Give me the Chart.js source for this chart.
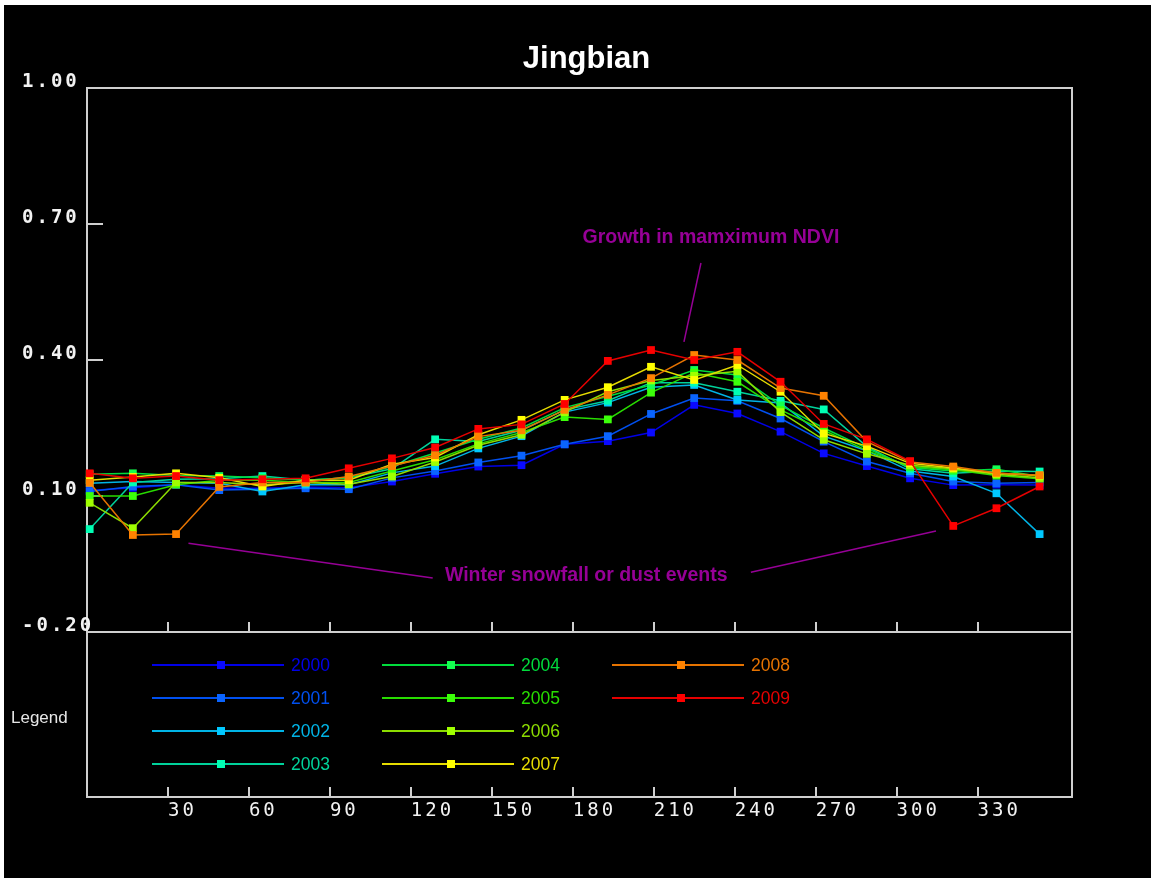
<!DOCTYPE html>
<html>
<head>
<meta charset="utf-8">
<script src="https://cdn.jsdelivr.net/npm/chart.js@4.4.1/dist/chart.umd.min.js"></script>
<style>
  html, body { margin: 0; padding: 0; background: #000; overflow: hidden; }
  #wrap { position: relative; width: 1151px; height: 878px; background: #000; }
  #c { position: absolute; left: 0; top: 0; }
  .edgeT { position: absolute; left: 0; top: 0; width: 1151px; height: 5px; background: #fff; }
  .edgeL { position: absolute; left: 0; top: 0; width: 4px; height: 878px; background: #fff; }
</style>
</head>
<body>
<div id="wrap">
  <canvas id="c" width="1151" height="878"></canvas>
  <div class="edgeT"></div>
  <div class="edgeL"></div>
</div>
<script>
// ---- data ----
const days = [1, 17, 33, 49, 65, 81, 97, 113, 129, 145, 161, 177, 193, 209, 225, 241, 257, 273, 289, 305, 321, 337, 353];
const years = ['2000', '2001', '2002', '2003', '2004', '2005', '2006', '2007', '2008', '2009'];

const ndvi2000 = [0.112, 0.118, 0.125, 0.117, 0.117, 0.120, 0.118, 0.132, 0.149, 0.165, 0.168, 0.214, 0.221, 0.240, 0.301, 0.282, 0.242, 0.194, 0.166, 0.139, 0.124, 0.125, 0.124];
const ndvi2001 = [0.110, 0.121, 0.125, 0.113, 0.115, 0.117, 0.115, 0.140, 0.155, 0.174, 0.189, 0.214, 0.232, 0.281, 0.316, 0.310, 0.271, 0.220, 0.176, 0.150, 0.132, 0.128, 0.130];
const ndvi2002 = [0.128, 0.132, 0.130, 0.128, 0.110, 0.125, 0.125, 0.151, 0.166, 0.205, 0.232, 0.285, 0.306, 0.340, 0.345, 0.312, 0.305, 0.232, 0.200, 0.155, 0.143, 0.106, 0.016];
const ndvi2003 = [0.027, 0.130, 0.137, 0.138, 0.144, 0.135, 0.140, 0.160, 0.225, 0.220, 0.245, 0.290, 0.310, 0.350, 0.350, 0.330, 0.310, 0.291, 0.209, 0.160, 0.150, 0.155, 0.154];
const ndvi2004 = [0.148, 0.150, 0.145, 0.144, 0.140, 0.135, 0.140, 0.165, 0.195, 0.225, 0.250, 0.295, 0.320, 0.345, 0.378, 0.367, 0.300, 0.250, 0.205, 0.163, 0.155, 0.159, 0.143];
const ndvi2005 = [0.100, 0.100, 0.125, 0.135, 0.135, 0.130, 0.130, 0.155, 0.180, 0.215, 0.240, 0.274, 0.269, 0.328, 0.372, 0.352, 0.290, 0.245, 0.200, 0.165, 0.158, 0.145, 0.138];
const ndvi2006 = [0.085, 0.029, 0.130, 0.130, 0.125, 0.130, 0.126, 0.143, 0.175, 0.212, 0.235, 0.285, 0.330, 0.355, 0.365, 0.375, 0.285, 0.224, 0.193, 0.168, 0.160, 0.148, 0.140];
const ndvi2007 = [0.135, 0.142, 0.150, 0.140, 0.121, 0.135, 0.135, 0.170, 0.185, 0.235, 0.268, 0.312, 0.340, 0.385, 0.356, 0.389, 0.330, 0.238, 0.210, 0.172, 0.162, 0.150, 0.145];
const ndvi2008 = [0.129, 0.014, 0.016, 0.120, 0.130, 0.130, 0.143, 0.166, 0.190, 0.231, 0.245, 0.290, 0.323, 0.360, 0.411, 0.400, 0.338, 0.321, 0.220, 0.175, 0.165, 0.151, 0.146];
const ndvi2009 = [0.150, 0.139, 0.144, 0.135, 0.137, 0.139, 0.161, 0.183, 0.207, 0.248, 0.258, 0.303, 0.398, 0.422, 0.400, 0.418, 0.352, 0.259, 0.225, 0.177, 0.034, 0.073, 0.121];

const series = [ndvi2000, ndvi2001, ndvi2002, ndvi2003, ndvi2004, ndvi2005, ndvi2006, ndvi2007, ndvi2008, ndvi2009];

const xTickValues = [30, 60, 90, 120, 150, 180, 210, 240, 270, 300, 330];
const yTickValues = [-0.2, 0.1, 0.4, 0.7, 1.0];

const titleText = 'Jingbian';
const legendTitle = 'Legend';
// annotations in data coordinates (day, NDVI)
const noteGrowth = { text: 'Growth in mamximum NDVI', at: [231.2, 0.669], line: [[227.5, 0.614], [221.2, 0.440]] };
const noteWinter = { text: 'Winter snowfall or dust events', at: [185, -0.0765],
  lines: [[[37.6, -0.004], [128.1, -0.081]], [[246, -0.068], [314.6, 0.0228]]] };

// ---- styles ----
const markerColors = ['#0a0aff', '#0a64ff', '#00c8ff', '#00ffb4', '#14ff50', '#3cff0a', '#a0ff00', '#ffff00', '#ff8200', '#ff0000'];
const lineColors   = ['#0000e6', '#0050f0', '#00b4e6', '#00d29b', '#00dc3c', '#28dc00', '#8cdc00', '#e6dc00', '#e67300', '#e60000'];
const AXIS = '#cfcfcf';
const PURPLE = '#960096';

const datasets = years.map((yr, i) => ({
  label: yr,
  data: days.map((d, j) => ({ x: d, y: series[i][j] })),
  borderColor: lineColors[i],
  backgroundColor: markerColors[i],
  pointBackgroundColor: markerColors[i],
  pointBorderColor: markerColors[i],
  pointBorderWidth: 0,
  pointRadius: 5.5,
  pointStyle: 'rect',
  borderWidth: 1.5,
  tension: 0,
  order: 9 - i,
  clip: false,
  xAxisID: 'x',
  yAxisID: 'y'
}));

// wrap label drawing to give the axis labels wide spacing
const labelStyle = {
  id: 'labelStyle',
  beforeDraw(chart) {
    [['y', '3px', 4], ['x2', '3px', 2]].forEach(([id, sp, dy]) => {
      const s = chart.scales[id];
      if (!s || s._styled) return;
      const orig = s.drawLabels.bind(s);
      s._computeLabelArea = () => undefined;
      s.drawLabels = (area) => {
        const c = s.ctx;
        c.save();
        c.letterSpacing = sp;
        c.translate(0, dy);
        orig(area);
        c.restore();
      };
      s._styled = true;
    });
  }
};

const decor = {
  id: 'decor',
  afterDraw(chart) {
    const ctx = chart.ctx;
    const xs = chart.scales.x, x2 = chart.scales.x2, ys = chart.scales.y;
    const area = chart.chartArea;
    ctx.save();
    // legend box sides
    ctx.strokeStyle = AXIS;
    ctx.lineWidth = 2;
    ctx.beginPath();
    ctx.moveTo(area.left, xs.top); ctx.lineTo(area.left, x2.top);
    ctx.moveTo(area.right, xs.top); ctx.lineTo(area.right, x2.top);
    ctx.stroke();

    // legend label
    ctx.fillStyle = '#e6e6e6';
    ctx.font = '17px "Liberation Sans", Arial, sans-serif';
    ctx.textAlign = 'left';
    ctx.textBaseline = 'middle';
    ctx.fillText(legendTitle, 11, 718);

    // legend entries (column-major, 4 rows)
    const cols = [152, 382, 612];
    const rows = [665, 698, 731, 764];
    chart.data.datasets.forEach((ds, i) => {
      const c = Math.floor(i / 4), r = i % 4;
      const x0 = cols[c], y = rows[r];
      ctx.strokeStyle = ds.borderColor;
      ctx.lineWidth = 2;
      ctx.beginPath(); ctx.moveTo(x0, y); ctx.lineTo(x0 + 132, y); ctx.stroke();
      ctx.fillStyle = ds.pointBackgroundColor;
      ctx.fillRect(x0 + 65, y - 4, 8, 8);
      ctx.fillStyle = ds.borderColor;
      ctx.font = '17.5px "Liberation Sans", Arial, sans-serif';
      ctx.fillText(ds.label, x0 + 139, y + 1);
    });

    // annotations
    const P = (p) => [xs.getPixelForValue(p[0]), ys.getPixelForValue(p[1])];
    ctx.strokeStyle = PURPLE;
    ctx.lineWidth = 1.5;
    const seg = (a, b) => { const A = P(a), B = P(b); ctx.beginPath(); ctx.moveTo(A[0], A[1]); ctx.lineTo(B[0], B[1]); ctx.stroke(); };
    seg(noteGrowth.line[0], noteGrowth.line[1]);
    noteWinter.lines.forEach(l => seg(l[0], l[1]));
    ctx.fillStyle = PURPLE;
    ctx.font = 'bold 19.5px "Liberation Sans", Arial, sans-serif';
    ctx.textAlign = 'center';
    ctx.textBaseline = 'middle';
    let t = P(noteGrowth.at); ctx.fillText(noteGrowth.text, t[0], t[1]);
    t = P(noteWinter.at); ctx.fillText(noteWinter.text, t[0], t[1]);
    ctx.restore();
  }
};

const fixedTicks = (vals) => (s) => { s.ticks = vals.map(v => ({ value: v })); };
const tickFont = { family: '"DejaVu Sans Mono", "Liberation Mono", monospace', size: 19 };

new Chart(document.getElementById('c'), {
  type: 'line',
  data: { datasets },
  plugins: [labelStyle, decor],
  options: {
    responsive: false,
    animation: false,
    devicePixelRatio: 1,
    layout: { padding: { left: 22, right: 0, top: 0, bottom: 0 } },
    plugins: {
      legend: { display: false },
      tooltip: { enabled: false },
      title: {
        display: true,
        text: titleText,
        color: '#ffffff',
        font: { family: '"Liberation Sans", Arial, sans-serif', size: 31, weight: 'bold' },
        padding: { top: 41, bottom: 9.8 }
      }
    },
    scales: {
      x: {
        type: 'linear', position: 'bottom', min: 0, max: 365, weight: 0,
        afterBuildTicks: fixedTicks(xTickValues),
        afterFit: (s) => { s.height = 165; },
        grid: { drawOnChartArea: false, drawTicks: true, tickLength: -10, color: AXIS, lineWidth: 2 },
        border: { display: true, color: AXIS, width: 2 },
        ticks: { display: false }
      },
      x2: {
        type: 'linear', position: 'bottom', min: 0, max: 365, weight: 1,
        afterBuildTicks: fixedTicks(xTickValues),
        afterFit: (s) => { s.height = 81; },
        grid: { drawOnChartArea: false, drawTicks: true, tickLength: -10, color: AXIS, lineWidth: 2 },
        border: { display: true, color: AXIS, width: 2 },
        ticks: { align: 'start', padding: 11, color: '#f2f2f2', font: tickFont, maxRotation: 0, autoSkip: false, callback: (v) => String(v) }
      },
      x3: {
        type: 'linear', position: 'top', min: 0, max: 365,
        afterFit: (s) => { s.height = 0; },
        grid: { display: false },
        border: { display: true, color: AXIS, width: 2 },
        ticks: { display: false }
      },
      y: {
        type: 'linear', position: 'left', min: -0.2, max: 1.0,
        afterBuildTicks: fixedTicks(yTickValues),
        afterFit: (s) => { s.width = 65; },
        grid: { drawOnChartArea: false, drawTicks: true, tickLength: -16, color: AXIS, lineWidth: 2 },
        border: { display: true, color: AXIS, width: 2 },
        ticks: { align: 'end', crossAlign: 'far', color: '#f2f2f2', font: Object.assign({}, tickFont, { weight: 'bold' }), callback: (v) => Number(v).toFixed(2) }
      },
      y2: {
        type: 'linear', position: 'right', min: -0.2, max: 1.0,
        afterFit: (s) => { s.width = 79; },
        grid: { display: false },
        border: { display: true, color: AXIS, width: 2 },
        ticks: { display: false }
      }
    }
  }
});
</script>
</body>
</html>
